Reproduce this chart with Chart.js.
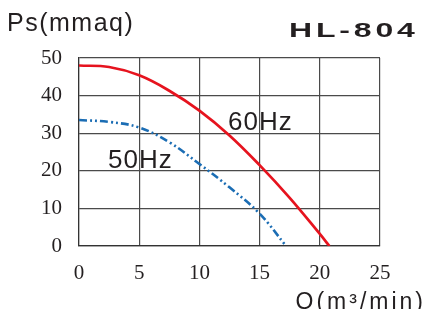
<!DOCTYPE html>
<html><head><meta charset="utf-8">
<script src="https://cdn.jsdelivr.net/npm/chart.js@4/dist/chart.umd.min.js"></script>
<style>html,body{margin:0;padding:0;background:#fff;}#c{display:block;}</style>
</head><body>
<canvas id="c" width="424" height="309"></canvas>
<script>
const xTicks = [0, 5, 10, 15, 20, 25];
const yTicks = [0, 10, 20, 30, 40, 50];
const q60 = [0, 2.5, 5, 7.5, 10, 12.5, 15, 17.5, 20, 20.8];
const ps60 = [48, 47.6, 45.4, 41.3, 36, 29.4, 21.5, 12.8, 3.2, 0];
const q50 = [0, 2.5, 5, 7.5, 10, 12.5, 15, 17.2];
const ps50 = [33.5, 33, 31.5, 27.6, 21.8, 15.6, 8.6, 0];
const seriesLabels = ['60Hz', '50Hz'];
const yTitle = 'Ps(mmaq)';
const xTitle = 'Q(m³/min)';
const model = 'HL-804';

const pts = (xs, ys) => xs.map((x, i) => ({x: x, y: ys[i]}));

const textPlugin = {
  id: 'texts',
  afterDraw(chart) {
    const ctx = chart.ctx;
    ctx.save();
    ctx.fillStyle = '#231f20';
    ctx.textBaseline = 'alphabetic';
    ctx.font = '25px "Liberation Sans"';
    ctx.letterSpacing = '1.5px';
    ctx.textAlign = 'left';
    ctx.fillText(yTitle, 7, 31);
    ctx.font = '23px "Liberation Sans"';
    ctx.letterSpacing = '3px';
    ctx.textAlign = 'right';
    ctx.fillText(xTitle, 426, 309);
    ctx.font = '26px "Liberation Sans"';
    ctx.letterSpacing = '1px';
    ctx.textAlign = 'left';
    ctx.fillText(seriesLabels[0], 228, 130);
    ctx.fillText(seriesLabels[1], 108, 168);
    ctx.font = 'bold 20px "Liberation Sans"';
    ctx.letterSpacing = '2.4px';
    ctx.save();
    ctx.translate(289, 37);
    ctx.scale(1.6, 1);
    ctx.fillText(model, 0, 0);
    ctx.restore();
    ctx.restore();
  }
};

new Chart(document.getElementById('c'), {
  type: 'scatter',
  data: {
    datasets: [
      {label: seriesLabels[0], data: pts(q60, ps60), showLine: true, borderColor: '#e6131e', borderWidth: 2.7, pointRadius: 0, tension: 0.4, fill: false},
      {label: seriesLabels[1], data: pts(q50, ps50), showLine: true, borderColor: '#1b6db4', borderWidth: 2.6, borderDash: [8, 3, 2, 3, 2, 3], pointRadius: 0, tension: 0.4, fill: false}
    ]
  },
  options: {
    responsive: false,
    animation: false,
    devicePixelRatio: 1,
    layout: {padding: {left: 0, top: 58, right: 44, bottom: 0}},
    plugins: {legend: {display: false}, tooltip: {enabled: false}, title: {display: false}},
    scales: {
      x: {
        type: 'linear', min: 0, max: 25,
        afterFit: s => { s.height = 63; },
        afterBuildTicks: s => { s.ticks = xTicks.map(v => ({value: v})); },
        grid: {color: '#4a4a4a', lineWidth: 1.2, drawTicks: false},
        border: {color: '#333', width: 1.2},
        ticks: {padding: 15, color: '#231f20', font: {family: '"Liberation Serif"', size: 21}, maxRotation: 0}
      },
      y: {
        type: 'linear', min: 0, max: 50,
        afterFit: s => { s.width = 79; },
        afterBuildTicks: s => { s.ticks = yTicks.map(v => ({value: v})); },
        grid: {color: '#4a4a4a', lineWidth: 1.2, drawTicks: false},
        border: {color: '#333', width: 1.2},
        ticks: {padding: 17, color: '#231f20', font: {family: '"Liberation Serif"', size: 21}}
      }
    }
  },
  plugins: [textPlugin]
});
</script>
</body></html>
